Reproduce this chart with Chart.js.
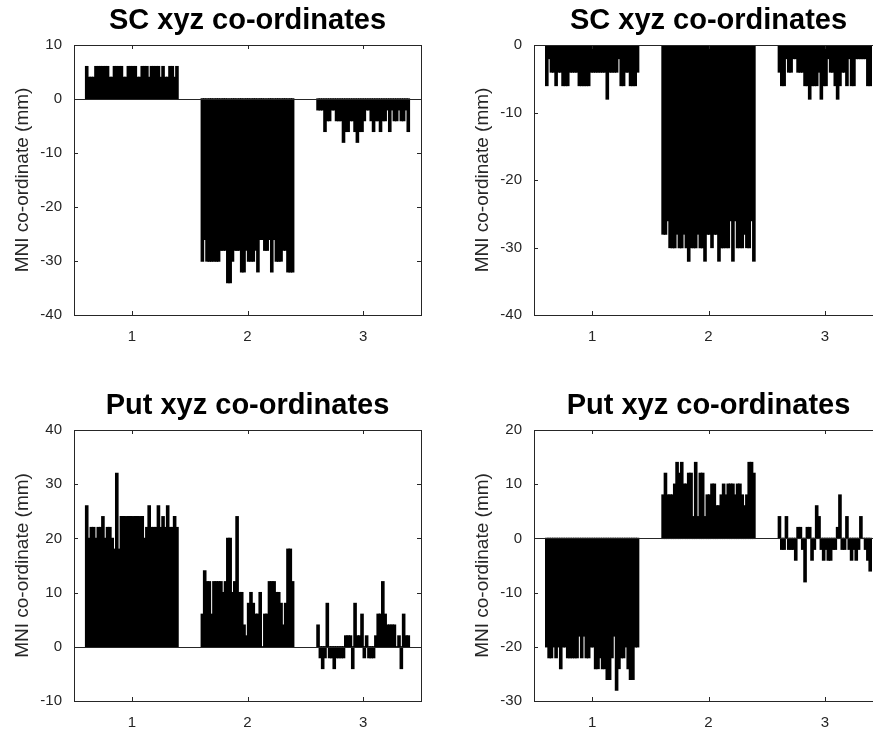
<!DOCTYPE html>
<html>
<head>
<meta charset="utf-8">
<script src="https://cdn.jsdelivr.net/npm/chart.js@4.4.1/dist/chart.umd.min.js"></script>
<style>
  html, body { margin: 0; padding: 0; background: #fff; overflow: hidden; }
  body { width: 873px; height: 733px; position: relative; }
  canvas { position: absolute; }
</style>
</head>
<body>
<canvas id="p1" width="436" height="345" style="left:0;top:0"></canvas>
<canvas id="p2" width="438" height="345" style="left:460px;top:0"></canvas>
<canvas id="p3" width="436" height="346" style="left:0;top:385px"></canvas>
<canvas id="p4" width="438" height="346" style="left:460px;top:385px"></canvas>
<script>
// categories (x, y, z coordinate)
const groupLabels = ['1', '2', '3'];

// SC, first panel (one value per subject)
const scAX = [6,4,4,4,6,6,6,6,6,6, 4,4,6,6,6,6,4,4,6,6, 6,6,4,4,6,6,6,4,6,6, 6,6,4,6,4,4,6,6,4,6];
const scAY = [-30,-26,-30,-30,-30,-30,-30,-30,-28,-28, -28,-34,-34,-30,-28,-28,-28,-32,-32,-28, -30,-30,-30,-28,-32,-26,-26,-28,-28,-26, -32,-26,-30,-30,-30,-28,-28,-32,-32,-32];
const scAZ = [-2,-2,-2,-6,-4,-4,-2,-2,-4,-4, -4,-8,-6,-6,-4,-4,-6,-8,-6,-6, -4,-2,-2,-4,-6,-4,-4,-6,-4,-4, -2,-6,-2,-4,-4,-2,-4,-4,-2,-6];

// SC, second panel
const scBX = [-6,-2,-4,-4,-6,-4,-4,-6,-6,-6, -4,-4,-4,-4,-6,-6,-6,-6,-6,-4, -4,-4,-4,-4,-4,-4,-8,-4,-4,-4, -4,-2,-6,-6,-4,-4,-6,-6,-6,-4];
const scBY = [-28,-28,-26,-30,-30,-30,-28,-30,-30,-28, -30,-32,-30,-30,-30,-28,-30,-30,-32,-28, -28,-30,-28,-28,-32,-30,-30,-30,-30,-26, -32,-26,-30,-30,-30,-28,-30,-30,-26,-32];
const scBZ = [-4,-6,-6,-2,-4,-4,-2,-2,-4,-4, -4,-6,-6,-8,-6,-6,-6,-4,-8,-6, -6,-2,-4,-4,-6,-8,-6,-4,-4,-6, -2,-6,-6,-2,-2,-2,-2,-2,-6,-6];

// Put, first panel
const putAX = [26,20,22,22,20,22,22,24,20,22, 22,20,18,32,18,24,24,24,24,24, 24,24,24,24,24,20,22,26,22,22, 22,26,22,24,22,26,22,22,24,22];
const putAY = [6,14,12,12,6,12,12,12,12,10, 12,20,20,10,12,24,10,10,4,2, 8,10,8,6,6,10,0,6,6,12, 12,12,10,10,8,4,8,18,18,12];
const putAZ = [4,-2,-4,-2,8,-2,-2,-4,-2,-2, -2,-2,2,2,2,-4,8,2,2,6, -2,2,-2,-2,-2,2,6,6,12,6, 4,4,4,4,0,2,-4,6,2,2];

// Put, second panel
const putBX = [-20,-22,-22,-20,-22,-20,-24,-20,-20,-22, -22,-22,-22,-22,-18,-22,-18,-22,-22,-20, -20,-24,-24,-22,-24,-24,-26,-26,-22,-18, -28,-24,-22,-22,-20,-24,-26,-26,-20,-20];
const putBY = [8,12,8,8,8,10,14,12,14,10, 10,12,12,4,14,4,12,12,4,8, 8,10,10,6,6,8,10,8,10,10, 10,8,10,10,8,6,8,14,14,12];
const putBZ = [4,-2,-2,4,-2,-2,-2,-4,2,2, -2,-8,2,2,-4,-2,6,4,-2,-4, -2,-4,-4,-2,-2,2,8,-2,-2,4, -2,-4,-2,-4,-2,4,0,-2,-4,-6];

// y tick labels per panel
const scATicks = [10, 0, -10, -20, -30, -40];
const scBTicks = [0, -10, -20, -30, -40];
const putATicks = [40, 30, 20, 10, 0, -10];
const putBTicks = [20, 10, 0, -10, -20, -30];

const axisColor = '#262626';
const fontFamily = 'Liberation Sans, Arial, sans-serif';

// box, inward ticks and zero baseline, MATLAB style
const matlabAxes = {
    id: 'matlabAxes',
    afterDatasetsDraw(chart) {
        const { ctx, chartArea: a, scales } = chart;
        const xs = scales.x, ys = scales.y;
        ctx.save();
        ctx.strokeStyle = axisColor;
        ctx.lineWidth = 1;
        // zero baseline
        const y0 = Math.round(ys.getPixelForValue(0)) + 0.5;
        ctx.beginPath();
        ctx.moveTo(a.left, y0);
        ctx.lineTo(a.right, y0);
        ctx.stroke();
        // box
        ctx.strokeRect(Math.round(a.left) + 0.5, Math.round(a.top) + 0.5,
            Math.round(a.right - a.left), Math.round(a.bottom - a.top));
        ctx.beginPath();
        const tl = 4;
        xs.ticks.forEach((t, i) => {
            const px = Math.round(xs.getPixelForTick(i)) + 0.5;
            ctx.moveTo(px, a.bottom); ctx.lineTo(px, a.bottom - tl);
            ctx.moveTo(px, a.top); ctx.lineTo(px, a.top + tl);
        });
        ys.ticks.forEach(t => {
            const py = Math.round(ys.getPixelForValue(t.value)) + 0.5;
            ctx.moveTo(a.left, py); ctx.lineTo(a.left + tl, py);
            ctx.moveTo(a.right, py); ctx.lineTo(a.right - tl, py);
        });
        ctx.stroke();
        ctx.restore();
    }
};

function makePanel(id, titleText, xs, ys, zs, yTicks) {
    const datasets = xs.map((v, i) => ({
        data: [xs[i], ys[i], zs[i]],
        backgroundColor: '#000',
        borderWidth: 0,
        inflateAmount: 0.65,
        barPercentage: 1,
        categoryPercentage: 0.8
    }));
    new Chart(document.getElementById(id), {
        type: 'bar',
        data: { labels: groupLabels, datasets },
        options: {
            responsive: false,
            animation: false,
            devicePixelRatio: 1,
            layout: { padding: { left: 0, right: 15, top: 0, bottom: 0 } },
            plugins: {
                legend: { display: false },
                tooltip: { enabled: false },
                title: {
                    display: true,
                    fullSize: false,
                    text: titleText,
                    color: '#000',
                    font: { family: fontFamily, size: 29, weight: 'bold', lineHeight: 1.2 },
                    padding: { top: 4, bottom: 6.2 }
                }
            },
            scales: {
                x: {
                    grid: { display: false, drawTicks: false },
                    border: { display: false },
                    ticks: { color: axisColor, padding: 13, font: { family: fontFamily, size: 15 } },
                    afterFit(s) { s.height = 30; }
                },
                y: {
                    min: yTicks[yTicks.length - 1],
                    max: yTicks[0],
                    grid: { display: false, drawTicks: false },
                    border: { display: false },
                    ticks: { color: axisColor, padding: 12, font: { family: fontFamily, size: 15 } },
                    afterBuildTicks(s) { s.ticks = yTicks.map(v => ({ value: v })); },
                    afterFit(s) { s.width = 74; },
                    title: {
                        display: true,
                        text: 'MNI co-ordinate (mm)',
                        color: axisColor,
                        padding: { top: 11, bottom: 0 },
                        font: { family: fontFamily, size: 19, lineHeight: 1.2 }
                    }
                }
            }
        },
        plugins: [matlabAxes]
    });
}

makePanel('p1', 'SC xyz co-ordinates', scAX, scAY, scAZ, scATicks);
makePanel('p2', 'SC xyz co-ordinates', scBX, scBY, scBZ, scBTicks);
makePanel('p3', 'Put xyz co-ordinates', putAX, putAY, putAZ, putATicks);
makePanel('p4', 'Put xyz co-ordinates', putBX, putBY, putBZ, putBTicks);
</script>
</body>
</html>
